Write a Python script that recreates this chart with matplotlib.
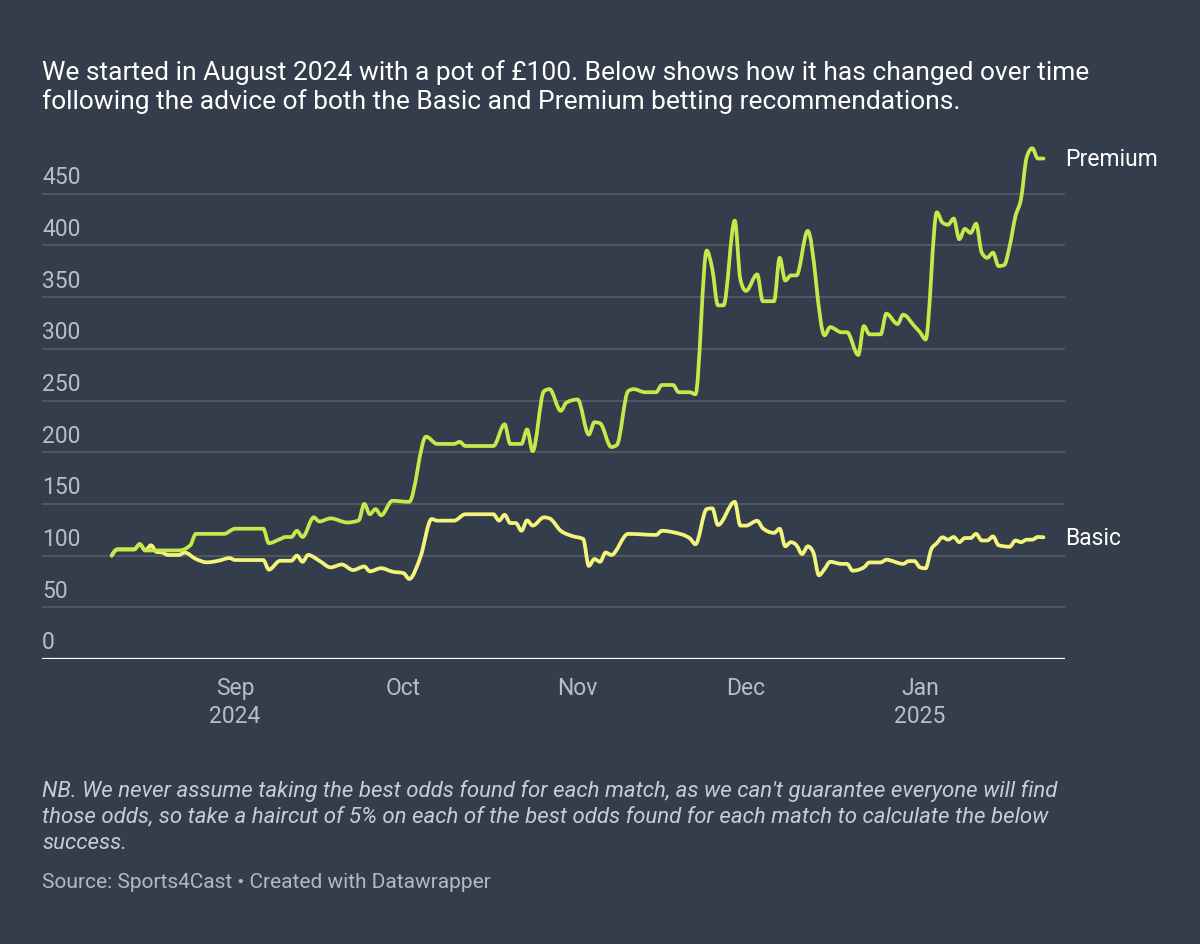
import matplotlib
matplotlib.use("Agg")
import matplotlib.pyplot as plt
import matplotlib.dates as mdates
import matplotlib.transforms as mtransforms
from matplotlib.path import Path
from matplotlib.patches import PathPatch
import numpy as np
import pandas as pd

plt.rcParams['font.family'] = ['Roboto', 'DejaVu Sans']

BG = '#333d4b'
GREEN = '#c5e84b'
YELLOW = '#f4f47c'
GRID = '#525b68'
TICK = '#b8bec8'

# pot value over time
premium_dates = [
    '2024-08-10', '2024-08-11', '2024-08-14', '2024-08-15', '2024-08-16', '2024-08-22',
    '2024-08-24', '2024-08-25', '2024-08-30', '2024-09-01', '2024-09-06', '2024-09-07',
    '2024-09-09', '2024-09-10', '2024-09-11', '2024-09-12', '2024-09-13', '2024-09-15',
    '2024-09-16', '2024-09-18', '2024-09-21', '2024-09-23', '2024-09-24', '2024-09-25',
    '2024-09-26', '2024-09-27', '2024-09-29', '2024-10-02', '2024-10-05', '2024-10-07',
    '2024-10-10', '2024-10-11', '2024-10-12', '2024-10-17', '2024-10-19', '2024-10-20',
    '2024-10-22', '2024-10-23', '2024-10-24', '2024-10-26', '2024-10-27', '2024-10-29',
    '2024-10-30', '2024-11-01', '2024-11-03', '2024-11-04', '2024-11-05', '2024-11-07',
    '2024-11-08', '2024-11-10', '2024-11-11', '2024-11-13', '2024-11-15', '2024-11-16',
    '2024-11-18', '2024-11-19', '2024-11-21', '2024-11-22', '2024-11-24', '2024-11-25',
    '2024-11-26', '2024-11-27', '2024-11-29', '2024-11-30', '2024-12-01', '2024-12-03',
    '2024-12-04', '2024-12-06', '2024-12-07', '2024-12-08', '2024-12-09', '2024-12-10',
    '2024-12-12', '2024-12-15', '2024-12-16', '2024-12-18', '2024-12-19', '2024-12-21',
    '2024-12-22', '2024-12-23', '2024-12-25', '2024-12-26', '2024-12-28', '2024-12-29',
    '2024-12-31', '2025-01-01', '2025-01-02', '2025-01-04', '2025-01-05', '2025-01-06',
    '2025-01-07', '2025-01-08', '2025-01-09', '2025-01-10', '2025-01-11', '2025-01-12',
    '2025-01-13', '2025-01-14', '2025-01-15', '2025-01-16', '2025-01-17', '2025-01-18',
    '2025-01-19', '2025-01-20', '2025-01-21', '2025-01-22', '2025-01-23',
]
premium_values = [
    100, 106, 106, 111, 105, 105,
    110, 121, 121, 126, 126, 112,
    116, 118, 118, 124, 118, 137,
    133, 136, 132, 134, 150, 140,
    145, 139, 153, 152, 215, 208,
    208, 210, 206, 206, 227, 208,
    208, 222, 201, 259, 261, 240,
    248, 251, 217, 229, 228, 205,
    207, 259, 261, 258, 258, 265,
    265, 258, 258, 256, 395, 377,
    342, 342, 424, 367, 356, 372,
    346, 346, 388, 366, 371, 371,
    414, 313, 321, 316, 316, 294,
    322, 314, 314, 334, 324, 333,
    322, 316, 309, 432, 422, 420,
    426, 406, 416, 412, 421, 393,
    388, 393, 380, 381, 400, 428,
    445, 485, 494, 484, 484,
]

basic_dates = [
    '2024-08-10', '2024-08-11', '2024-08-14', '2024-08-15', '2024-08-16', '2024-08-17',
    '2024-08-18', '2024-08-19', '2024-08-20', '2024-08-22', '2024-08-23', '2024-08-25',
    '2024-08-27', '2024-08-29', '2024-08-31', '2024-09-01', '2024-09-06', '2024-09-07',
    '2024-09-09', '2024-09-11', '2024-09-12', '2024-09-13', '2024-09-14', '2024-09-16',
    '2024-09-18', '2024-09-20', '2024-09-22', '2024-09-24', '2024-09-25', '2024-09-27',
    '2024-09-29', '2024-10-01', '2024-10-02', '2024-10-04', '2024-10-06', '2024-10-07',
    '2024-10-10', '2024-10-12', '2024-10-17', '2024-10-18', '2024-10-19', '2024-10-20',
    '2024-10-21', '2024-10-22', '2024-10-23', '2024-10-24', '2024-10-26', '2024-10-27',
    '2024-10-29', '2024-10-31', '2024-11-02', '2024-11-03', '2024-11-04', '2024-11-05',
    '2024-11-06', '2024-11-07', '2024-11-10', '2024-11-15', '2024-11-16', '2024-11-18',
    '2024-11-21', '2024-11-22', '2024-11-24', '2024-11-25', '2024-11-26', '2024-11-29',
    '2024-11-30', '2024-12-01', '2024-12-03', '2024-12-04', '2024-12-06', '2024-12-07',
    '2024-12-08', '2024-12-09', '2024-12-10', '2024-12-11', '2024-12-12', '2024-12-13',
    '2024-12-14', '2024-12-15', '2024-12-16', '2024-12-18', '2024-12-19', '2024-12-20',
    '2024-12-22', '2024-12-23', '2024-12-25', '2024-12-26', '2024-12-29', '2024-12-30',
    '2024-12-31', '2025-01-01', '2025-01-02', '2025-01-03', '2025-01-04', '2025-01-05',
    '2025-01-06', '2025-01-07', '2025-01-08', '2025-01-09', '2025-01-10', '2025-01-11',
    '2025-01-12', '2025-01-13', '2025-01-14', '2025-01-15', '2025-01-17', '2025-01-18',
    '2025-01-19', '2025-01-20', '2025-01-21', '2025-01-22', '2025-01-23',
]
basic_values = [
    100, 106, 106, 111, 105, 110,
    103.5, 103, 100.6, 100.6, 103, 96.7,
    93.5, 95, 97.6, 95.7, 95.7, 86.4,
    95, 95, 100, 94, 100.6, 95,
    88.6, 91.4, 86, 89.5, 84.8, 87.8,
    84.5, 83, 77.4, 98.6, 135.4, 133.8,
    133.8, 140, 140, 133.8, 139.5, 131.5,
    131.5, 124, 134, 129, 137, 136,
    124, 119, 116, 90, 96.7, 94,
    103, 100.6, 121, 120, 124, 122.6,
    116.7, 111, 145, 145.7, 129.6, 152,
    129, 129, 133.7, 126.4, 122, 126,
    109, 113, 110, 101.5, 109, 103,
    81, 87, 94, 92, 92, 85.4,
    88.6, 93.4, 93.4, 96, 92, 94.7,
    94.7, 88.6, 87.7, 106, 112, 117.7,
    115.4, 118, 113, 117, 117, 121,
    114.6, 114.6, 118.6, 110, 108.6, 114.6,
    113, 115.4, 115.4, 118, 117.7,
]

y_ticks = [0, 50, 100, 150, 200, 250, 300, 350, 400, 450]
x_ticks = ['2024-09-01', '2024-10-01', '2024-11-01', '2024-12-01', '2025-01-01']
x_labels = ['Sep\n2024', 'Oct', 'Nov', 'Dec', 'Jan\n2025']


def monotone_path(x, y):
    # bezier path like d3's curveMonotoneX (what Datawrapper draws with)
    x = np.asarray(x, float)
    y = np.asarray(y, float)
    h = np.diff(x)
    s = np.diff(y) / h
    t = np.zeros_like(y)
    for i in range(1, len(x) - 1):
        p = (s[i - 1] * h[i] + s[i] * h[i - 1]) / (h[i - 1] + h[i])
        t[i] = (np.sign(s[i - 1]) + np.sign(s[i])) * min(abs(s[i - 1]), abs(s[i]), 0.5 * abs(p))
    t[0] = (3 * s[0] - t[1]) / 2
    t[-1] = (3 * s[-1] - t[-2]) / 2
    verts = [(x[0], y[0])]
    codes = [Path.MOVETO]
    for i in range(len(x) - 1):
        dx = h[i] / 3
        verts += [(x[i] + dx, y[i] + dx * t[i]), (x[i + 1] - dx, y[i + 1] - dx * t[i + 1]),
                  (x[i + 1], y[i + 1])]
        codes += [Path.CURVE4] * 3
    return Path(verts, codes)


premium_x = mdates.date2num(pd.to_datetime(premium_dates))
basic_x = mdates.date2num(pd.to_datetime(basic_dates))

fig = plt.figure(figsize=(12, 9.45), dpi=100, facecolor=BG)
ax = fig.add_axes([42 / 1200, 1 - 660 / 945, (1065 - 42) / 1200, (660 - 143) / 945])
ax.set_facecolor(BG)

ax.set_xlim(mdates.date2num(pd.Timestamp('2024-07-28 14:00')),
            mdates.date2num(pd.Timestamp('2025-01-26 20:00')))
ax.set_ylim(0, 500)
ax.xaxis_date()

for v in y_ticks[1:]:
    ax.axhline(v, color=GRID, lw=1.3, zorder=1)
ax.axhline(0, color='white', lw=1.6, zorder=3)

# y labels sit inside the plot, just above each gridline
lab_tr = mtransforms.offset_copy(ax.get_yaxis_transform(), fig=fig, x=0, y=4, units='points')
for v in y_ticks:
    ax.text(0.0, v, str(v), transform=lab_tr, ha='left', va='bottom',
            fontsize=16.5, color=TICK, zorder=4)
ax.set_yticks([])

ax.add_patch(PathPatch(monotone_path(basic_x, basic_values), fill=False, ec=YELLOW,
                       lw=2.7, joinstyle='round', capstyle='round', zorder=5))
ax.add_patch(PathPatch(monotone_path(premium_x, premium_values), fill=False, ec=GREEN,
                       lw=2.7, joinstyle='round', capstyle='round', zorder=6))

ax.set_xticks(mdates.date2num(pd.to_datetime(x_ticks)))
ax.set_xticklabels(x_labels, fontsize=16.5, color=TICK, linespacing=1.3)
ax.tick_params(axis='x', length=0, pad=12)
for s in ax.spines.values():
    s.set_visible(False)

ax.text(1.0, premium_values[-1], 'Premium', transform=ax.get_yaxis_transform(),
        ha='left', va='center', fontsize=16.5, color='white')
ax.text(1.0, basic_values[-1], 'Basic', transform=ax.get_yaxis_transform(),
        ha='left', va='center', fontsize=16.5, color='white')

fig.text(42 / 1200, 1 - 60 / 945,
         "We started in August 2024 with a pot of £100. Below shows how it has changed over time\n"
         "following the advice of both the Basic and Premium betting recommendations.",
         ha='left', va='top', fontsize=19, color='white', linespacing=1.2)

fig.text(42 / 1200, 1 - 780 / 945,
         "NB. We never assume taking the best odds found for each match, as we can't guarantee everyone will find\n"
         "those odds, so take a haircut of 5% on each of the best odds found for each match to calculate the below\n"
         "success.",
         ha='left', va='top', fontsize=16, color='#c9cdd3', style='italic', linespacing=1.3)

fig.text(42 / 1200, 1 - 873 / 945, "Source: Sports4Cast • Created with Datawrapper",
         ha='left', va='top', fontsize=15, color='#b3b9c2')

fig.savefig('out.png', dpi=100, facecolor=BG)
